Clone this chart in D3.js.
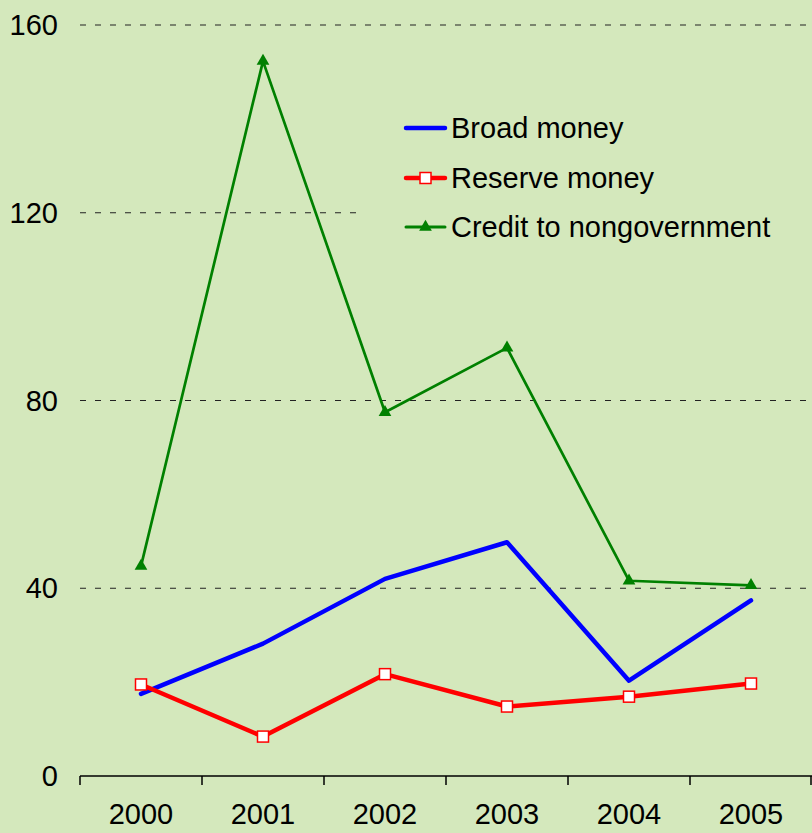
<!DOCTYPE html>
<html>
<head>
<meta charset="utf-8">
<script src="https://cdn.jsdelivr.net/npm/d3@7"></script>
<style>
  html, body { margin: 0; padding: 0; background: #d4e8bc; }
  svg { display: block; }
  text { font-family: "Liberation Sans", Arial, sans-serif; fill: #000; }
</style>
</head>
<body>
<svg id="chart" width="812" height="833"></svg>
<script>
const years = ["2000", "2001", "2002", "2003", "2004", "2005"];
const broadMoney = [17.5, 28.2, 42.0, 49.8, 20.3, 37.4];
const reserveMoney = [19.5, 8.4, 21.7, 14.8, 16.9, 19.7];
const creditNongov = [44.7, 152.3, 77.5, 91.2, 41.6, 40.6];
const yTicks = [0, 40, 80, 120, 160];
const seriesNames = ["Broad money", "Reserve money", "Credit to nongovernment"];

const svg = d3.select("#chart");
const W = 812, H = 833;
svg.append("rect").attr("width", W).attr("height", H).attr("fill", "#d4e8bc");

const x = d3.scaleBand().domain(years).range([80, 812]).padding(0);
const y = d3.scaleLinear().domain([0, 160]).range([776, 25]);
const cx = d => x(d) + x.bandwidth() / 2;

// gridlines
svg.append("g").selectAll("line")
  .data(yTicks.filter(t => t > 0))
  .join("line")
  .attr("x1", 80).attr("x2", 812)
  .attr("y1", d => y(d)).attr("y2", d => y(d))
  .attr("stroke", "#222").attr("stroke-width", 1)
  .attr("stroke-dasharray", "6,9");

// y labels
svg.append("g").selectAll("text")
  .data(yTicks)
  .join("text")
  .attr("x", 58).attr("y", d => y(d))
  .attr("text-anchor", "end")
  .attr("dominant-baseline", "central")
  .attr("font-size", 29)
  .text(d => d);

// x axis
svg.append("line").attr("x1", 80).attr("x2", 812).attr("y1", 776).attr("y2", 776)
  .attr("stroke", "#000").attr("stroke-width", 1.5);
const bounds = years.map(d => x(d)).concat([x.range()[1]]);
svg.append("g").selectAll("line").data(bounds).join("line")
  .attr("x1", d => Math.min(d, 811)).attr("x2", d => Math.min(d, 811))
  .attr("y1", 776).attr("y2", 785)
  .attr("stroke", "#000").attr("stroke-width", 1.5);
svg.append("g").selectAll("text").data(years).join("text")
  .attr("x", d => cx(d)).attr("y", 824)
  .attr("text-anchor", "middle")
  .attr("font-size", 29)
  .text(d => d);

// legend background
const lg = svg.append("g");
lg.append("rect").attr("x", 365).attr("y", 100).attr("width", 447).attr("height", 150).attr("fill", "#d4e8bc");

const line = d3.line().x((d, i) => cx(years[i])).y(d => y(d));

// Broad money
svg.append("path").datum(broadMoney).attr("d", line)
  .attr("fill", "none").attr("stroke", "#0000ff").attr("stroke-width", 4.5).attr("stroke-linejoin", "round").attr("stroke-linecap", "round");

// Reserve money
svg.append("path").datum(reserveMoney).attr("d", line)
  .attr("fill", "none").attr("stroke", "#ff0000").attr("stroke-width", 4.5).attr("stroke-linejoin", "round");
svg.append("g").selectAll("rect").data(reserveMoney).join("rect")
  .attr("x", (d, i) => cx(years[i]) - 5.5).attr("y", d => y(d) - 5.5)
  .attr("width", 11).attr("height", 11)
  .attr("fill", "#fff").attr("stroke", "#ff0000").attr("stroke-width", 1.5);

// Credit
svg.append("path").datum(creditNongov).attr("d", line)
  .attr("fill", "none").attr("stroke", "#008000").attr("stroke-width", 2.7).attr("stroke-linejoin", "round");
const tri = d3.symbol().type(d3.symbolTriangle).size(70);
svg.append("g").selectAll("path").data(creditNongov).join("path")
  .attr("d", tri)
  .attr("transform", (d, i) => `translate(${cx(years[i])},${y(d)})`)
  .attr("fill", "#008000");

// legend
const legY = [128, 178, 227];
lg.append("line").attr("x1", 406).attr("x2", 445).attr("y1", legY[0]).attr("y2", legY[0])
  .attr("stroke", "#0000ff").attr("stroke-width", 4.5).attr("stroke-linecap", "round");
lg.append("line").attr("x1", 406).attr("x2", 445).attr("y1", legY[1]).attr("y2", legY[1])
  .attr("stroke", "#ff0000").attr("stroke-width", 4.5).attr("stroke-linecap", "round");
lg.append("rect").attr("x", 420).attr("y", legY[1] - 5.5).attr("width", 11).attr("height", 11)
  .attr("fill", "#fff").attr("stroke", "#ff0000").attr("stroke-width", 1.5);
lg.append("line").attr("x1", 406).attr("x2", 445).attr("y1", legY[2]).attr("y2", legY[2])
  .attr("stroke", "#008000").attr("stroke-width", 3).attr("stroke-linecap", "round");
lg.append("path").attr("d", tri).attr("transform", `translate(425.5,${legY[2]})`).attr("fill", "#008000");
lg.selectAll("text.leg").data(seriesNames).join("text")
  .attr("class", "leg")
  .attr("x", 451).attr("y", (d, i) => legY[i])
  .attr("dominant-baseline", "central")
  .attr("font-size", 29)
  .text(d => d);
</script>
</body>
</html>
